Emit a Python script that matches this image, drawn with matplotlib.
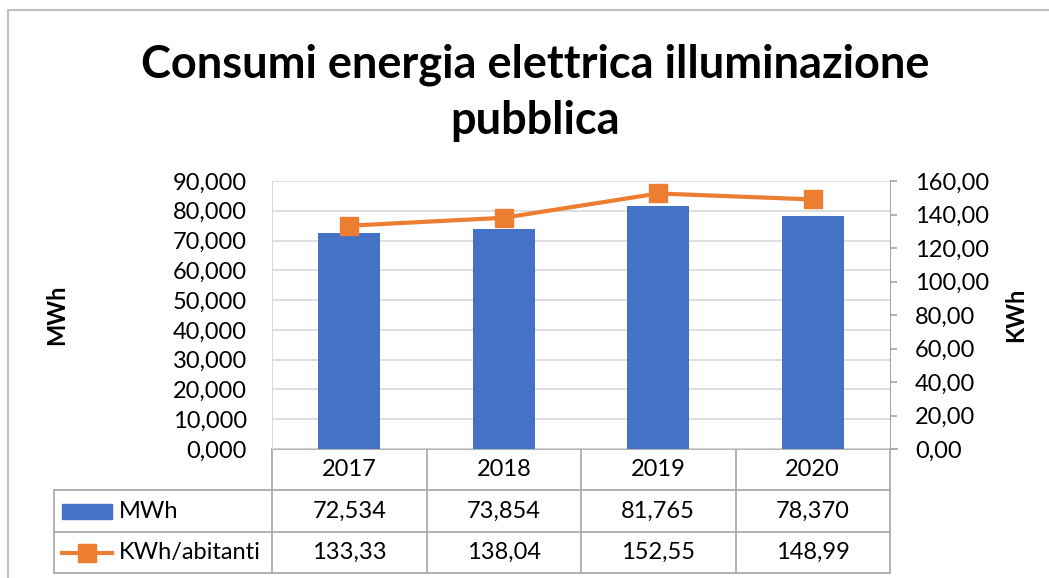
import matplotlib
matplotlib.use("Agg")
import matplotlib.pyplot as plt
from matplotlib.ticker import FuncFormatter, MultipleLocator
from matplotlib.lines import Line2D
from matplotlib.patches import Rectangle

# ---- data ----
years = ["2017", "2018", "2019", "2020"]
mwh = [72.534, 73.854, 81.765, 78.370]
kwh_ab = [133.33, 138.04, 152.55, 148.99]
series_names = ["MWh", "KWh/abitanti"]
title = "Consumi energia elettrica illuminazione\npubblica"
left_label = "MWh"
right_label = "KWh"

BLUE = "#4472C4"
ORANGE = "#ED7D31"
GRID = "#D9D9D9"
LINEC = "#A6A6A6"
FONT = "Lato"

plt.rcParams["font.family"] = [FONT, "DejaVu Sans"]

W, H = 1049, 578
fig = plt.figure(figsize=(W / 100, H / 100), dpi=100)

# overlay in pixel coords
ov = fig.add_axes([0, 0, 1, 1], zorder=0)
ov.set_xlim(0, W)
ov.set_ylim(H, 0)
ov.axis("off")

L, R, T, B = 272, 890, 181, 449
ax = fig.add_axes([L / W, 1 - B / H, (R - L) / W, (B - T) / H], zorder=2)
ax.patch.set_alpha(0)

x = list(range(len(years)))
ax.bar(x, mwh, width=0.4, color=BLUE, zorder=3)
ax.set_xlim(-0.5, len(years) - 0.5)
ax.set_ylim(0, 90)
ax.yaxis.set_major_locator(MultipleLocator(10))
ax.yaxis.set_major_formatter(FuncFormatter(lambda v, p: f"{v:.3f}".replace(".", ",")))
ax.grid(axis="y", color=GRID, linewidth=1.2, zorder=0)
ax.set_xticks([])
for s in ["top", "bottom", "right"]:
    ax.spines[s].set_visible(False)
ax.spines["left"].set_color(GRID)
ax.tick_params(axis="y", length=0, labelsize=17, pad=18, colors="black")
ax.set_ylabel(left_label, fontsize=17, fontweight="bold", labelpad=75)

ax2 = ax.twinx()
ax2.patch.set_alpha(0)
ax2.plot(x, kwh_ab, color=ORANGE, linewidth=3, marker="s", markersize=13, zorder=4)
ax2.set_ylim(0, 160)
ax2.yaxis.set_major_locator(MultipleLocator(20))
ax2.yaxis.set_major_formatter(FuncFormatter(lambda v, p: f"{v:.2f}".replace(".", ",")))
for s in ["top", "bottom", "left"]:
    ax2.spines[s].set_visible(False)
ax2.spines["right"].set_color(LINEC)
ax2.tick_params(axis="y", length=5, width=1.2, color=LINEC, labelsize=17, pad=13, colors="black")
ax2.set_ylabel(right_label, fontsize=17, fontweight="bold", labelpad=11)

# ---- title ----
fig.text(535 / W, 1 - 93 / H, title, ha="center", va="center", fontsize=32.5,
         fontweight="bold", linespacing=1.4)

# ---- chart frame (left & top) ----
ov.plot([8, 8, W], [H, 10, 10], color="#BFBFBF", linewidth=1.5)

# ---- data table ----
TL = 54
rows_y = [B, 490, 532, 573]
col_w = (R - L) / len(years)
cols_x = [L + i * col_w for i in range(len(years) + 1)]
for cx in cols_x:
    ov.plot([cx, cx], [B, rows_y[-1]], color=LINEC, linewidth=1.2)
for ry in rows_y[1:]:
    ov.plot([TL, R], [ry, ry], color=LINEC, linewidth=1.2)
ov.plot([TL, TL], [rows_y[1], rows_y[-1]], color=LINEC, linewidth=1.2)
ov.plot([L, R + 7], [B, B], color=LINEC, linewidth=1.2)

for i, yr in enumerate(years):
    cx = L + (i + 0.5) * col_w
    ov.text(cx, (rows_y[0] + rows_y[1]) / 2, yr, ha="center", va="center", fontsize=17)
    ov.text(cx, (rows_y[1] + rows_y[2]) / 2, f"{mwh[i]:.3f}".replace(".", ","),
            ha="center", va="center", fontsize=17)
    ov.text(cx, (rows_y[2] + rows_y[3]) / 2, f"{kwh_ab[i]:.2f}".replace(".", ","),
            ha="center", va="center", fontsize=17)

# legend keys
r1 = (rows_y[1] + rows_y[2]) / 2
r2 = (rows_y[2] + rows_y[3]) / 2
ov.add_patch(Rectangle((62, r1 - 7.5), 50, 15, color=BLUE))
ov.add_line(Line2D([62, 112], [r2, r2], color=ORANGE, linewidth=3))
ov.plot([87], [r2], marker="s", color=ORANGE, markersize=13)
ov.text(119, r1, series_names[0], ha="left", va="center", fontsize=17)
ov.text(119, r2, series_names[1], ha="left", va="center", fontsize=17)

fig.savefig("out.png", dpi=100)
